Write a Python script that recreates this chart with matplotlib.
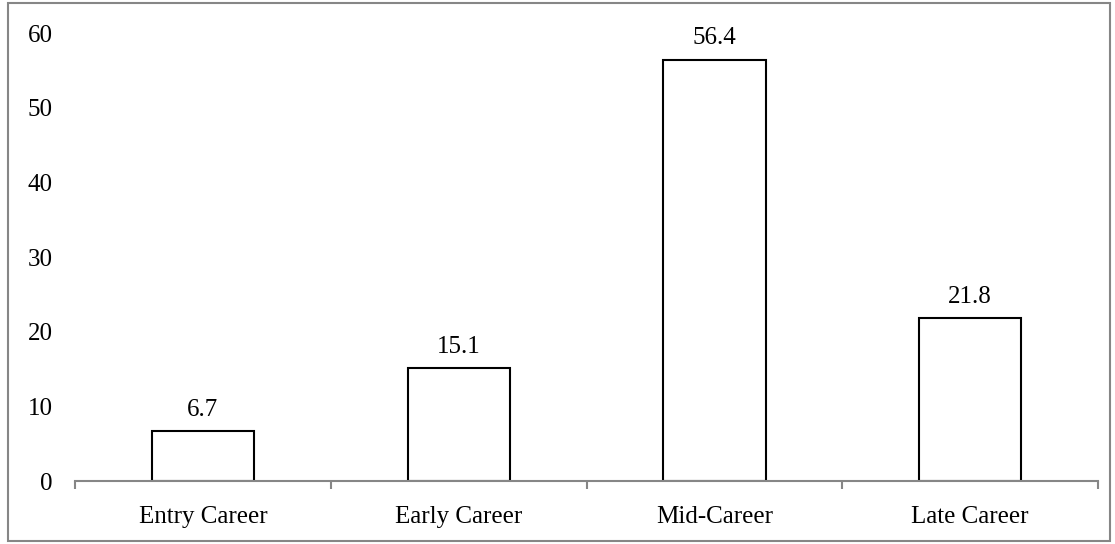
import matplotlib.pyplot as plt
from matplotlib.patches import Rectangle

# data
categories = ['Entry Career', 'Early Career', 'Mid-Career', 'Late Career']
values = [6.7, 15.1, 56.4, 21.8]
yticks = [0, 10, 20, 30, 40, 50, 60]

plt.rcParams['font.family'] = ['Liberation Serif', 'DejaVu Serif']
fs = 18

fig = plt.figure(figsize=(11.15, 5.44), dpi=100)
ax = fig.add_axes([0.0673, 0.1158, 0.9175, 0.8235])

x = list(range(len(categories)))
ax.bar(x, values, width=0.4, color='white', edgecolor='black', linewidth=1.5)

for xi, v in zip(x, values):
    ax.text(xi, v + 1.4, f'{v}', ha='center', va='bottom', fontsize=fs)

ax.set_xlim(-0.5, len(categories) - 0.5)
ax.set_ylim(0, 60)
ax.set_yticks(yticks)
ax.tick_params(axis='y', length=0, pad=16, labelsize=fs)

# category boundary ticks, labels at centres
ax.set_xticks([i - 0.5 for i in range(len(categories) + 1)])
ax.set_xticklabels([])
ax.tick_params(axis='x', which='major', direction='out', length=6, width=1.5, color='#868686')
ax.set_xticks(x, minor=True)
ax.set_xticklabels(categories, minor=True)
ax.tick_params(axis='x', which='minor', length=0, pad=18, labelsize=fs)

for s in ['top', 'right', 'left']:
    ax.spines[s].set_visible(False)
ax.spines['bottom'].set_color('#868686')
ax.spines['bottom'].set_linewidth(1.5)

# outer border
fig.patches.append(Rectangle((8 / 1115, 3 / 544), 1102 / 1115, 538 / 544,
                             transform=fig.transFigure, fill=False,
                             edgecolor='#868686', linewidth=1.5))

fig.savefig('out.png', dpi=100)
